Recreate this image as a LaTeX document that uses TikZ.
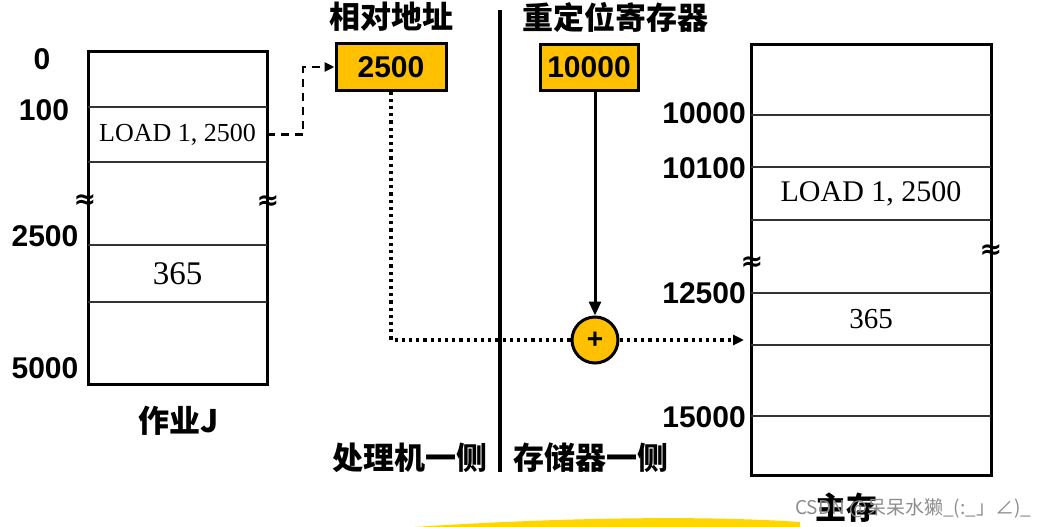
\documentclass[tikz,border=0pt]{standalone}
\usepackage{fontspec}
\setmainfont{Liberation Serif}
\setsansfont{Liberation Sans}
\newfontfamily\cjk{Noto Sans CJK SC}
\newfontfamily\dejavu{DejaVu Sans}
\usetikzlibrary{arrows.meta}
\definecolor{gold}{RGB}{255,192,0}
\definecolor{swoosh}{RGB}{255,214,0}
\tikzset{
  num/.style={font=\sffamily\bfseries\fontsize{30}{32}\selectfont, inner sep=0pt},
  boxnum/.style={font=\sffamily\bfseries\fontsize{30}{32}\selectfont, draw, line width=3pt, fill=gold, minimum height=46pt, inner sep=0pt},
  title/.style={font=\cjk\bfseries\fontsize{31}{33}\selectfont, inner sep=0pt},
  mem/.style={draw, line width=3pt, inner sep=0pt},
  row/.style={line width=1.5pt, draw=black!80},
  cell/.style={inner sep=0pt},
  brk/.style={font=\dejavu\bfseries\fontsize{27}{27}\selectfont, inner sep=0pt},
  dashedarrow/.style={line width=2.5pt, dash pattern=on 8pt off 6pt, -{Triangle[length=10pt,width=9pt]}},
  dottedline/.style={line width=3.2pt, dash pattern=on 3.2pt off 4pt},
  solidarrow/.style={line width=3pt, -{Triangle[length=14pt,width=12pt]}}
}
\begin{document}
\begin{tikzpicture}[x=1pt,y=-1pt]
\useasboundingbox (0,0) rectangle (1046,527);
% bottom swoosh
\fill[swoosh] (415,527) .. controls (550,518) and (700,515) .. (800,522) -- (800,527) -- cycle;

% Job J box
\node[mem, minimum width=179pt, minimum height=332pt] (jobJ) at (177.5,218) {};
\draw[row] (88,107) -- (267,107);
\draw[row] (88,162) -- (267,162);
\draw[row] (88,245) -- (267,245);
\draw[row] (88,302) -- (267,302);
\node[cell, minimum width=179pt, minimum height=55pt, font=\fontsize{26}{28}\selectfont] (loadJ) at (177.5,134.5) {LOAD 1, 2500};
\node[cell, minimum width=179pt, minimum height=57pt, font=\fontsize{33}{35}\selectfont] (valJ) at (177.5,273.5) {365};
\node[brk] (bJl) at (85,202) {≈};
\node[brk] (bJr) at (268,203) {≈};
\node[num] (a0) at (42,59) {0};
\node[num] (a100) at (44,110) {100};
\node[num] (a2500) at (45,236) {2500};
\node[num] (a5000) at (45,368) {5000};
\node[title] (jobname) at (179,421) {作业J};

% relative address
\node[title] (reltitle) at (391,17) {相对地址};
\node[boxnum, minimum width=110pt] (rel) at (391,67) {2500};
% relocation register
\node[title] (regtitle) at (615,17) {重定位寄存器};
\node[boxnum, minimum width=98pt] (reg) at (589,67.5) {10000};

% divider
\coordinate (divtop) at (500,10);
\coordinate (divbot) at (500,472);
\draw[line width=4pt] (divtop) -- (divbot);
\node[title, anchor=east] (cpu) at (488,458) {处理机一侧};
\node[title, anchor=west] (store) at (513,458) {存储器一侧};

% adder
\node[circle, draw, line width=3pt, fill=gold, minimum size=46pt, inner sep=0pt, font=\sffamily\bfseries\fontsize{28}{28}\selectfont] (plus) at (595,340) {+};

% main memory
\node[mem, minimum width=240pt, minimum height=430pt] (mainmem) at (871,260) {};
\draw[row] (751,115) -- (991,115);
\draw[row] (751,167) -- (991,167);
\draw[row] (751,220) -- (991,220);
\draw[row] (751,293) -- (991,293);
\draw[row] (751,345) -- (991,345);
\draw[row] (751,416) -- (991,416);
\node[cell, minimum width=240pt, minimum height=53pt, font=\fontsize{30}{32}\selectfont] (loadM) at (871,193.5) {LOAD 1, 2500};
\node[cell, minimum width=240pt, minimum height=52pt, font=\fontsize{29}{31}\selectfont] (valM) at (871,319) {365};
\coordinate (memin) at (744,340);
\node[brk] (bMl) at (752,264) {≈};
\node[brk] (bMr) at (991,252) {≈};
\node[num, anchor=east] (m10000) at (746,113) {10000};
\node[num, anchor=east] (m10100) at (746,168) {10100};
\node[num, anchor=east] (m12500) at (746,293) {12500};
\node[num, anchor=east] (m15000) at (746,417) {15000};
\node[title] (memname) at (846,508) {主存};

% connectors
\draw[dashedarrow] (loadJ.east) -- ++(36,0) |- (rel.west);
\draw[dottedline] (rel.south) |- (plus.west);
\draw[dottedline, -{Triangle[length=11pt,width=10pt]}] (plus.east) -- (memin);
\draw[solidarrow] (reg.south -| plus.north) -- (plus.north);

% watermark
\node[font=\cjk\fontsize{19}{20}\selectfont, text=black!45, anchor=west, inner sep=0pt] (wm) at (795,508) {CSDN @呆呆水獭\_(:\_」∠)\_};
\end{tikzpicture}
\end{document}
